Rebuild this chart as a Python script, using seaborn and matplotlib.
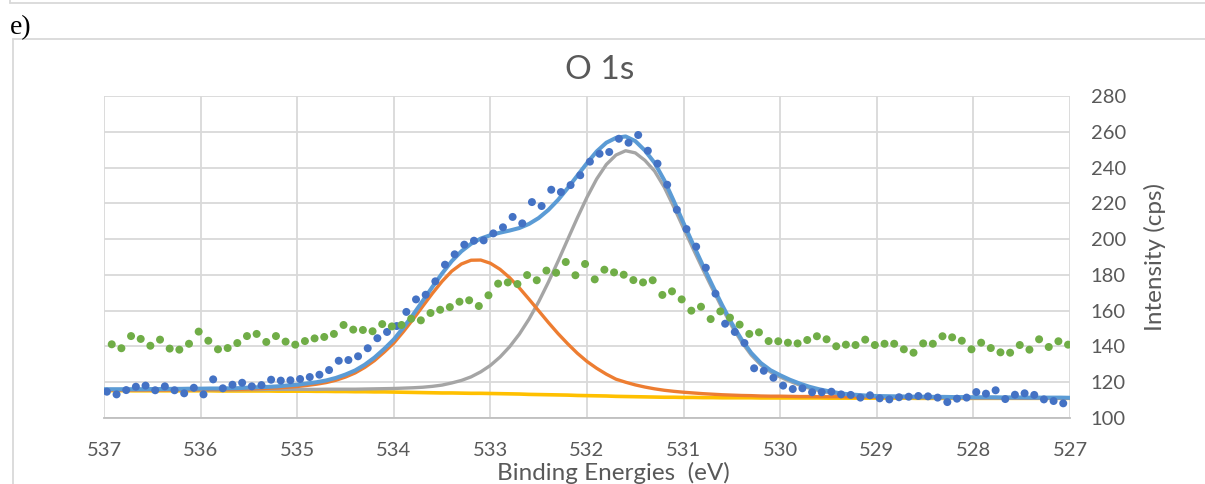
import numpy as np
import pandas as pd
import seaborn as sns
import matplotlib.pyplot as plt
from matplotlib.lines import Line2D

# binding energy grids (eV)
be_blue = np.round(np.linspace(536.97, 527.07, 100), 2)
be_green = np.round(np.linspace(536.92, 527.02, 100), 2)
be_fit = np.round(np.linspace(537.0, 527.0, 101), 1)

counts_blue = [
    114.7, 113.2, 115.6, 117.5, 118.1, 115.5, 117.7, 115.5, 113.8, 116.9,
    113.2, 121.6, 116.6, 118.6, 119.7, 117.7, 118.4, 121.4, 120.9, 121.1,
    121.8, 122.9, 124.2, 126.8, 132.0, 132.4, 134.5, 139.0, 144.6, 148.1,
    151.4, 159.3, 166.3, 168.9, 176.4, 185.7, 191.5, 196.9, 199.1, 199.3,
    203.2, 206.6, 212.4, 208.8, 220.7, 218.5, 227.6, 226.3, 230.2, 235.7,
    243.3, 247.7, 248.7, 256.1, 253.9, 258.2, 249.4, 242.2, 230.4, 216.4,
    205.6, 195.8, 184.0, 169.5, 152.7, 148.1, 141.9, 127.8, 126.4, 122.5,
    118.1, 116.2, 116.6, 114.4, 114.4, 114.7, 113.2, 112.9, 111.4, 112.7,
    111.0, 110.4, 111.6, 111.9, 112.3, 112.1, 111.4, 108.9, 110.8, 111.4,
    114.5, 113.6, 115.5, 110.6, 113.0, 113.8, 112.9, 110.4, 109.5, 108.2,
]

counts_green = [
    141.2, 139.0, 145.8, 144.2, 140.4, 143.8, 138.8, 138.2, 141.5, 148.3,
    143.2, 138.4, 139.1, 141.9, 145.8, 147.0, 142.5, 145.8, 142.7, 141.0,
    143.0, 144.5, 145.3, 147.0, 152.0, 149.4, 149.2, 148.5, 152.5, 151.2,
    152.0, 155.5, 154.6, 158.7, 160.5, 162.0, 165.0, 165.8, 162.6, 168.6,
    175.1, 175.8, 174.9, 179.9, 177.0, 182.4, 181.2, 187.2, 179.8, 186.1,
    177.5, 182.9, 181.4, 180.1, 177.1, 175.8, 177.0, 168.8, 170.8, 166.3,
    160.0, 162.2, 155.3, 159.6, 156.1, 152.2, 147.0, 147.9, 143.0, 142.9,
    142.1, 141.7, 143.6, 145.7, 144.0, 140.1, 141.0, 140.8, 143.8, 140.8,
    141.5, 141.5, 138.4, 136.5, 141.7, 141.5, 145.7, 145.1, 143.2, 138.4,
    142.1, 139.1, 136.7, 136.5, 140.8, 138.2, 144.0, 139.7, 142.9, 141.0,
]

fit_envelope = [
    116.1, 116.1, 116.1, 116.1, 116.1, 116.2, 116.2, 116.3, 116.3, 116.4,
    116.4, 116.5, 116.5, 116.6, 116.7, 117.0, 117.2, 117.4, 117.7, 118.2,
    118.6, 119.3, 120.0, 121.0, 122.4, 124.3, 126.6, 129.8, 133.8, 138.6,
    143.9, 150.6, 157.8, 165.5, 173.3, 180.8, 187.7, 193.2, 197.4, 200.3,
    202.2, 203.6, 204.8, 206.2, 208.5, 211.8, 216.3, 221.9, 228.5, 235.5,
    242.5, 249.0, 253.9, 256.6, 257.4, 254.8, 249.5, 242.6, 232.9, 221.1,
    208.9, 196.9, 185.2, 173.9, 163.0, 152.8, 143.9, 136.4, 130.7, 126.7,
    123.9, 121.4, 119.3, 117.5, 116.1, 115.0, 114.0, 113.3, 112.9, 112.5,
    112.3, 112.2, 112.1, 112.0, 111.9, 111.9, 111.8, 111.8, 111.7, 111.7,
    111.6, 111.6, 111.6, 111.5, 111.5, 111.5, 111.4, 111.4, 111.4, 111.4,
    111.3,
]

fit_peak_533 = [
    115.7, 115.7, 115.7, 115.7, 115.7, 115.7, 115.7, 115.7, 115.8, 115.8,
    115.8, 115.9, 115.9, 115.9, 116.0, 116.2, 116.4, 116.6, 116.8, 117.2,
    117.6, 118.2, 118.9, 119.8, 121.1, 122.9, 125.2, 128.3, 132.1, 136.8,
    141.9, 148.3, 155.2, 162.5, 169.7, 176.4, 182.1, 186.1, 188.2, 188.3,
    186.5, 183.1, 178.4, 172.7, 166.4, 159.9, 153.4, 147.2, 141.5, 136.2,
    131.6, 127.8, 124.5, 121.7, 120.0, 118.5, 117.3, 116.3, 115.5, 114.9,
    114.4, 114.0, 113.6, 113.3, 113.0, 112.8, 112.6, 112.5, 112.3, 112.2,
    112.2, 112.1, 112.0, 112.0, 111.9, 111.9, 111.9, 111.8, 111.8, 111.7,
    111.7, 111.7, 111.6, 111.6, 111.6, 111.5, 111.5, 111.5, 111.5, 111.4,
    111.4, 111.4, 111.4, 111.4, 111.4, 111.3, 111.3, 111.3, 111.3, 111.3,
    111.3,
]

fit_peak_531 = [
    115.7, 115.7, 115.7, 115.7, 115.7, 115.7, 115.7, 115.8, 115.8, 115.8,
    115.8, 115.8, 115.8, 115.8, 115.8, 115.9, 115.9, 116.0, 116.0, 116.0,
    116.0, 116.0, 116.0, 116.1, 116.1, 116.1, 116.1, 116.2, 116.3, 116.4,
    116.5, 116.7, 116.9, 117.2, 117.7, 118.4, 119.6, 121.0, 123.0, 125.8,
    129.4, 134.1, 139.9, 146.9, 155.3, 165.0, 175.9, 187.6, 199.8, 211.9,
    223.4, 233.6, 241.7, 247.0, 249.4, 248.2, 244.0, 238.0, 229.0, 217.8,
    206.0, 194.4, 183.0, 172.0, 161.3, 151.3, 142.5, 135.2, 129.6, 125.7,
    122.9, 120.5, 118.4, 116.7, 115.3, 114.2, 113.3, 112.6, 112.2, 111.9,
    111.7, 111.6, 111.5, 111.4, 111.4, 111.3, 111.3, 111.2, 111.2, 111.2,
    111.1, 111.1, 111.1, 111.1, 111.1, 111.0, 111.0, 111.0, 111.0, 111.0,
    111.0,
]

fit_background = [
    115.3, 115.3, 115.3, 115.2, 115.2, 115.2, 115.2, 115.2, 115.2, 115.2,
    115.2, 115.2, 115.1, 115.1, 115.1, 115.1, 115.1, 115.1, 115.0, 115.0,
    115.0, 115.0, 114.9, 114.9, 114.8, 114.8, 114.7, 114.7, 114.6, 114.6,
    114.5, 114.4, 114.3, 114.2, 114.1, 114.0, 114.0, 113.9, 113.8, 113.8,
    113.7, 113.6, 113.5, 113.4, 113.2, 113.1, 113.0, 112.9, 112.8, 112.6,
    112.5, 112.4, 112.3, 112.1, 112.0, 111.9, 111.8, 111.7, 111.6, 111.6,
    111.5, 111.5, 111.4, 111.4, 111.3, 111.3, 111.3, 111.3, 111.2, 111.2,
    111.2, 111.2, 111.2, 111.2, 111.2, 111.1, 111.1, 111.1, 111.1, 111.1,
    111.1, 111.1, 111.1, 111.1, 111.0, 111.0, 111.0, 111.0, 111.0, 111.0,
    111.0, 111.0, 111.0, 111.0, 111.0, 111.0, 111.0, 111.0, 111.0, 111.0,
    111.0,
]

x_ticks = list(range(527, 538))
y_ticks = list(range(100, 281, 20))

sns.set_theme(style="white")
plt.rcParams['font.family'] = ['Lato', 'DejaVu Sans']
text_grey = '#595959'
grid_grey = '#D9D9D9'

fits = pd.DataFrame({
    'be': be_fit,
    'envelope': fit_envelope,
    'peak_533': fit_peak_533,
    'peak_531': fit_peak_531,
    'background': fit_background,
})

fig = plt.figure(figsize=(12.05, 4.84), dpi=100)
ax = fig.add_axes([104 / 1205, 66 / 484, 966 / 1205, 322 / 484])

sns.lineplot(data=fits, x='be', y='background', color='#FFC000', lw=2.6, ax=ax, zorder=2)
sns.lineplot(data=fits, x='be', y='peak_531', color='#A5A5A5', lw=2.4, ax=ax, zorder=3)
sns.lineplot(data=fits, x='be', y='peak_533', color='#ED7D31', lw=2.4, ax=ax, zorder=3)
sns.lineplot(data=fits, x='be', y='envelope', color='#5B9BD5', lw=2.9, ax=ax, zorder=4)
sns.scatterplot(x=be_blue, y=counts_blue, color='#4472C4', s=33, edgecolor='none',
                ax=ax, zorder=5)
sns.scatterplot(x=be_green, y=counts_green, color='#70AD47', s=33, edgecolor='none',
                ax=ax, zorder=5)

ax.set_xlim(537, 527)
ax.set_ylim(100, 280)
ax.set_xticks(x_ticks)
ax.set_yticks(y_ticks)
ax.grid(True, color=grid_grey, lw=1.3)
ax.set_axisbelow(True)
for side in ['top', 'left', 'right']:
    ax.spines[side].set_visible(False)
ax.spines['bottom'].set_color('#BFBFBF')
ax.spines['bottom'].set_linewidth(1.3)
ax.yaxis.tick_right()
ax.tick_params(axis='y', length=0, pad=15, labelsize=14.5, labelcolor=text_grey)
ax.tick_params(axis='x', length=0, pad=17, labelsize=14.5, labelcolor=text_grey)
ax.set_xlabel('')
ax.set_ylabel('')

fig.text(600 / 1205, 1 - 70 / 484, 'O 1s', ha='center', va='center',
         fontsize=24, color=text_grey)
fig.text(613 / 1205, 1 - 473 / 484, 'Binding Energies  (eV)', ha='center', va='center',
         fontsize=17.5, color=text_grey)
fig.text(1155 / 1205, 1 - 257 / 484, 'Intensity (cps)', ha='center', va='center',
         rotation=90, fontsize=17.5, color=text_grey)
fig.text(10 / 1205, 1 - 34 / 484, 'e)', ha='left', va='baseline',
         fontsize=20, family=['Liberation Serif'], color='black')

# frames of the surrounding document
frame_kw = dict(transform=fig.transFigure, color=grid_grey, lw=1.3)
fig.add_artist(Line2D([10 / 1205, 1], [1 - 3 / 484, 1 - 3 / 484], **frame_kw))
fig.add_artist(Line2D([10 / 1205, 10 / 1205], [1, 1 - 3 / 484], **frame_kw))
fig.add_artist(Line2D([13 / 1205, 1], [1 - 39 / 484, 1 - 39 / 484], **frame_kw))
fig.add_artist(Line2D([13 / 1205, 13 / 1205], [1 - 39 / 484, 0], **frame_kw))

fig.savefig('out.png', dpi=100)
plt.close(fig)
